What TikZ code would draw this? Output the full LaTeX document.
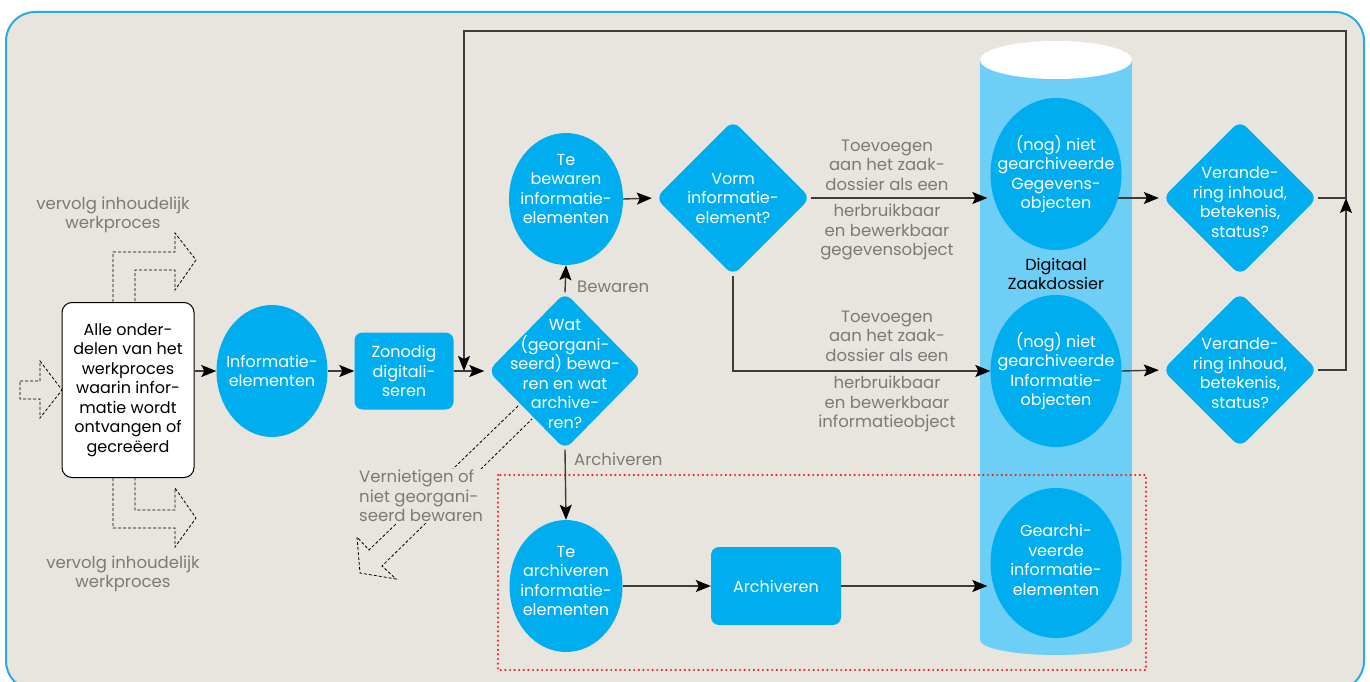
\documentclass[tikz,border=0pt]{standalone}
\usepackage{fontspec}
\setmainfont{Poppins}
\usetikzlibrary{shapes.geometric,arrows.meta}
\definecolor{bg}{HTML}{E8E5DE}
\definecolor{frameblue}{HTML}{29ABE2}
\definecolor{nodeblue}{HTML}{00AEEF}
\definecolor{cylblue}{HTML}{6DCFF6}
\definecolor{labelgray}{HTML}{7A7A7A}
\definecolor{linegray}{HTML}{3C3C3C}
\definecolor{dotred}{HTML}{E0282E}
\begin{document}
\begin{tikzpicture}[x=1pt,y=-1pt,
  every node/.style={font=\fontsize{16}{19.5}\selectfont},
  ell/.style={ellipse, fill=nodeblue, inner sep=0pt},
  dia/.style={diamond, fill=nodeblue, inner sep=0pt, rounded corners=9pt, minimum width=155pt, minimum height=155pt},
  blk/.style={rectangle, fill=nodeblue, rounded corners=8pt, inner sep=0pt},
  wt/.style={text=white, align=center, inner sep=0pt},
  lbl/.style={text=labelgray, align=center, inner sep=0pt, font=\fontsize{16.5}{19.5}\selectfont},
  conn/.style={draw=linegray, line width=1.4pt, -{Stealth[length=15pt,width=12pt,inset=3pt,color=black]}},
  hollow/.style={draw=black, line width=0.8pt, dash pattern=on 3pt off 2pt}
]
\useasboundingbox (0,0) rectangle (1370,682);
% frame
\draw[frameblue, line width=2pt, fill=bg, rounded corners=29pt] (6,12) rectangle (1364,690);

% cylinder
\fill[cylblue] (980,60) rectangle (1132,640);
\fill[cylblue] (1056,640) ellipse [x radius=76, y radius=15];
\fill[white] (1056,60) ellipse [x radius=76, y radius=19];

% red dotted area
\draw[dotred, line width=2.4pt, line cap=round, dash pattern=on 0pt off 4.6pt] (498,475) rectangle (1146,670);

% nodes
\node[draw=black, line width=1pt, fill=white, rounded corners=10pt, minimum width=132pt, minimum height=175pt, align=center, inner sep=0pt] (src) at (128,390)
  {Alle onder-\\delen van het\\werkproces\\waarin infor-\\matie wordt\\ontvangen of\\gecreëerd};
\node[ell, minimum width=111pt, minimum height=132pt] (ie) at (272,371) {};
\node[wt] (ie-t) at (ie) {Informatie-\\elementen};
\node[blk, minimum width=99pt, minimum height=77pt] (zd) at (404,371) {};
\node[wt] (zd-t) at (zd) {Zonodig\\digitali-\\seren};
\node[dia, minimum width=154pt, minimum height=157pt] (wat) at (565,371) {};
\node[wt] (wat-t) at (565,374) {Wat\\(georgani-\\seerd) bewa-\\ren en wat\\archive-\\ren?};
\node[ell, minimum width=114pt, minimum height=132pt] (tb) at (566,199) {};
\node[wt] (tb-t) at (566,189) {Te\\bewaren\\informatie-\\elementen};
\node[dia] (vorm) at (733,198) {};
\node[wt] (vorm-t) at (vorm) {Vorm\\informatie-\\element?};
\node[ell, minimum width=131pt, minimum height=152pt] (geg) at (1056,174) {};
\node[wt] (geg-t) at (geg) {(nog) niet\\gearchiveerde\\Gegevens-\\objecten};
\node[ell, minimum width=131pt, minimum height=152pt] (inf) at (1056,371) {};
\node[wt] (inf-t) at (inf) {(nog) niet\\gearchiveerde\\Informatie-\\objecten};
\node[ell, minimum width=131pt, minimum height=150pt] (gea) at (1056,563) {};
\node[wt] (gea-t) at (1056,560) {Gearchi-\\veerde\\informatie-\\elementen};
\node[dia] (ver1) at (1240,198) {};
\node[wt] (ver1-t) at (1240,202) {Verande-\\ring inhoud,\\betekenis,\\status?};
\node[dia] (ver2) at (1240,370) {};
\node[wt] (ver2-t) at (1240,373) {Verande-\\ring inhoud,\\betekenis,\\status?};
\node[ell, minimum width=113pt, minimum height=132pt] (ta) at (566,586) {};
\node[wt] (ta-t) at (566,581) {Te\\archiveren\\informatie-\\elementen};
\node[blk, minimum width=130pt, minimum height=78pt] (arch) at (776,586) {};
\node[wt] (arch-t) at (arch) {Archiveren};
\node[align=center, inner sep=0pt] (dz) at (1056,274) {Digitaal\\Zaakdossier};

% labels
\node[lbl, anchor=west] (l-bew) at (577,287) {Bewaren};
\node[lbl, anchor=west] (l-arc) at (574,459) {Archiveren};
\node[lbl] (l-t1) at (887,165) {Toevoegen\\aan het zaak-\\dossier als een};
\node[lbl] (l-b1) at (887,232) {herbruikbaar\\en bewerkbaar\\gegevensobject};
\node[lbl] (l-t2) at (887,336) {Toevoegen\\aan het zaak-\\dossier als een};
\node[lbl] (l-b2) at (887,404) {herbruikbaar\\en bewerkbaar\\informatieobject};
\node[lbl] (l-v1) at (113,215) {vervolg inhoudelijk\\werkproces};
\node[lbl] (l-v2) at (123,574) {vervolg inhoudelijk\\werkproces};

% hollow dashed arrows
\draw[hollow] (20,381) -- (40,381) -- (40,361) -- (62,390) -- (40,418) -- (40,399) -- (20,399) -- cycle;
\draw[hollow] (src.north -| 113,0) -- (113,252) -- (175,252) -- (175,233) -- (196,260) -- (175,290) -- (175,270) -- (135,270) -- (src.north -| 135,0);
\draw[hollow] (src.south -| 113,0) -- (113,528) -- (175,528) -- (175,547) -- (196,518) -- (175,488) -- (175,510) -- (135,510) -- (src.south -| 135,0);
\draw[hollow] (518,406) -- (369,550) -- (357,537) -- (360,573) -- (396,579) -- (382,566) -- (532,419);
\node[lbl, align=left, anchor=west, fill=bg, inner sep=1pt] (l-vern) at (358,496) {Vernietigen of\\niet georgani-\\seerd bewaren};

% coordinates of the feedback loop
\coordinate (loopR) at (1346,198);
\coordinate (loopTL) at (464,31);
\coordinate (loopJ) at (464,371);

% connectors
\draw[conn] (src.east |- ie.west) -- (ie.west);
\draw[conn] (ie.east) -- (zd.west);
\draw[conn, shorten >=3.5pt] (zd.east) -- (wat.west);
\draw[conn] (wat.north) -- (tb.south);
\draw[conn, shorten >=3.5pt] (tb.east) -- (vorm.west);
\draw[conn, shorten >=3pt] (vorm.east) -- (vorm.east -| geg.west);
\draw[conn] (vorm.south) |- (inf.west);
\draw[conn, shorten <=-4pt, shorten >=3.5pt] (ver1.west -| geg.east) -- (ver1.west);
\draw[conn, shorten >=3.5pt] (inf.east) -- (ver2.west);
\draw[conn] (ver1.east) -- (loopR) |- (loopTL) -- (loopJ);
\draw[conn] (ver2.east) -| (loopR);
\draw[conn] (wat.south) -- (ta.north);
\draw[conn] (ta.east) -- (arch.west);
\draw[conn, shorten >=3pt] (arch.east) -- (arch.east -| gea.west);
\end{tikzpicture}
\end{document}
